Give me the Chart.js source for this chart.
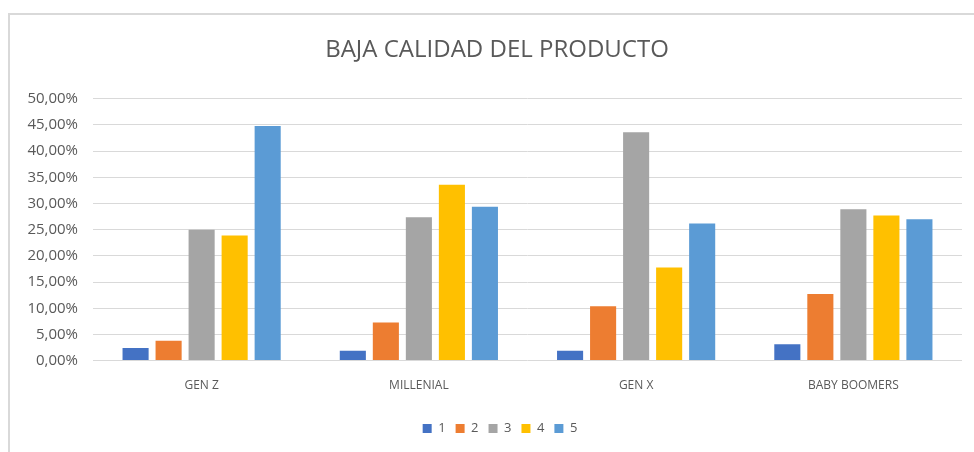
<!DOCTYPE html>
<html>
<head>
<meta charset="utf-8">
<script src="https://cdn.jsdelivr.net/npm/chart.js@4/dist/chart.umd.min.js"></script>
<style>
  html, body { margin: 0; padding: 0; background: #fff; }
  #wrap { position: relative; width: 974px; height: 452px; }
  #frame {
    position: absolute; left: 8px; top: 13px; right: -4px; bottom: -4px;
    border-left: 2px solid #d9d9d9; border-top: 2px solid #d9d9d9;
  }
  canvas { position: absolute; left: 0; top: 0; }
</style>
</head>
<body>
<div id="wrap">
  <div id="frame"></div>
  <canvas id="chart" width="974" height="452"></canvas>
</div>
<script>
// categorías (generaciones)
const categories = ["GEN Z", "MILLENIAL", "GEN X", "BABY BOOMERS"];

// porcentaje por respuesta 1..5
const serie1 = [2.4, 1.9, 1.9, 3.1];
const serie2 = [3.8, 7.3, 10.4, 12.7];
const serie3 = [25.0, 27.4, 43.6, 28.9];
const serie4 = [23.9, 33.6, 17.8, 27.7];
const serie5 = [44.8, 29.4, 26.2, 27.0];

const seriesNames = ["1", "2", "3", "4", "5"];
const seriesColors = ["#4472C4", "#ED7D31", "#A5A5A5", "#FFC000", "#5B9BD5"];
const seriesData = [serie1, serie2, serie3, serie4, serie5];

const textColor = "#595959";
const fontFamily = "'Open Sans', 'Liberation Sans', sans-serif";

const datasets = seriesData.map((data, i) => ({
  label: seriesNames[i],
  data: data,
  backgroundColor: seriesColors[i],
  borderWidth: 0,
  barPercentage: 0.79,
  categoryPercentage: 0.76,
}));

// el marco original es más ancho que la imagen: título y leyenda van algo a la derecha
const shiftBlocks = {
  id: "shiftBlocks",
  afterLayout(chart) {
    if (chart.titleBlock) {
      chart.titleBlock.left += 16;
      chart.titleBlock.right += 16;
    }
    if (chart.legend) {
      chart.legend.left += 19;
      chart.legend.right += 19;
    }
  },
};

const ctx = document.getElementById("chart").getContext("2d");

new Chart(ctx, {
  type: "bar",
  data: {
    labels: categories,
    datasets: datasets,
  },
  plugins: [shiftBlocks],
  options: {
    responsive: false,
    animation: false,
    layout: {
      padding: { left: 0, right: 12, top: 0, bottom: 7 },
    },
    plugins: {
      title: {
        display: true,
        text: "BAJA CALIDAD DEL PRODUCTO",
        color: textColor,
        font: { family: fontFamily, size: 24, weight: "normal" },
        padding: { top: 36, bottom: 34 },
      },
      legend: {
        display: true,
        position: "bottom",
        labels: {
          color: textColor,
          font: { family: fontFamily, size: 13 },
          boxWidth: 9,
          boxHeight: 9,
          padding: 10,
        },
      },
      tooltip: { enabled: false },
    },
    scales: {
      x: {
        grid: { display: false },
        border: { display: false },
        afterFit: function (scale) {
          scale.height = scale.height + 9;
        },
        ticks: {
          color: textColor,
          font: { family: fontFamily, size: 12 },
          padding: 10,
        },
      },
      y: {
        min: 0,
        max: 50,
        afterFit: function (scale) {
          scale.width = 93;
        },
        grid: { color: "#d9d9d9", lineWidth: 1, drawTicks: false },
        border: { display: false },
        ticks: {
          stepSize: 5,
          color: textColor,
          font: { family: fontFamily, size: 15 },
          padding: 15,
          callback: function (value) {
            return value.toFixed(2).replace(".", ",") + "%";
          },
        },
      },
    },
  },
});
</script>
</body>
</html>
